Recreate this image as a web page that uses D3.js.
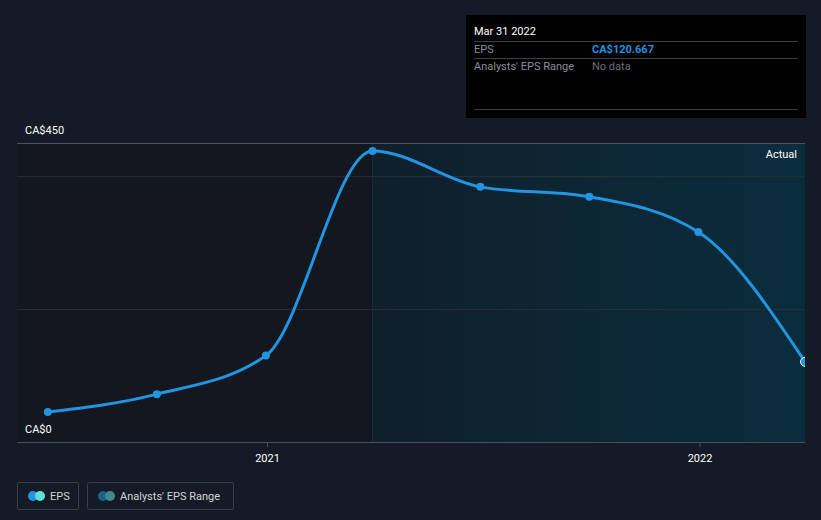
<!DOCTYPE html>
<html>
<head>
<meta charset="utf-8">
<script src="https://cdn.jsdelivr.net/npm/d3@7"></script>
<style>
  html, body { margin: 0; padding: 0; background: #151b26; }
  svg text { font-family: Roboto, "Noto Sans", sans-serif; }
</style>
</head>
<body>
<div id="chart"></div>
<script>
const width = 821;
const height = 520;
const margin = ({top: 143, right: 16, left: 17, bottom: 78});

// data
const dates = ["2020-06-30", "2020-09-30", "2020-12-31", "2021-03-31", "2021-06-30", "2021-09-30", "2021-12-31", "2022-03-31"];
const eps = [45, 72, 130, 438, 384, 369, 316, 120.667];
const yTicks = [0, 200, 400, 450];
const xTicks = ["2021-01-01", "2022-01-01"];
const actualStart = "2021-03-31";

const parse = d3.timeParse("%Y-%m-%d");
const data = dates.map((d, i) => ({date: parse(d), value: eps[i]}));

const svg = d3.select("#chart")
              .append("svg")
              .attr("width", width)
              .attr("height", height);

const x = d3.scaleTime()
            .domain([parse("2020-06-04"), parse("2022-03-31")])
            .range([margin.left, width - margin.right]);
const y = d3.scaleLinear()
            .domain([0, 450])
            .range([height - margin.bottom, margin.top]);

const defs = svg.append("defs");
const grad = defs.append("linearGradient").attr("id", "actualGrad")
                 .attr("x1", "0%").attr("x2", "100%");
grad.append("stop").attr("offset", "0%").attr("stop-color", "#101f2b");
grad.append("stop").attr("offset", "100%").attr("stop-color", "#0a2d3d");

defs.append("clipPath").attr("id", "plotClip")
    .append("rect")
    .attr("x", 0).attr("y", 0)
    .attr("width", x.range()[1]).attr("height", height);

// past (dark) region
svg.append("rect")
   .attr("x", x.range()[0])
   .attr("y", y(450))
   .attr("width", x(parse(actualStart)) - x.range()[0])
   .attr("height", y(0) - y(450))
   .attr("fill", "#121720");

// actual region
svg.append("rect")
   .attr("x", x(parse(actualStart)))
   .attr("y", y(450))
   .attr("width", x.range()[1] - x(parse(actualStart)))
   .attr("height", y(0) - y(450))
   .attr("fill", "url(#actualGrad)");

svg.append("line")
   .attr("x1", x(parse(actualStart))).attr("x2", x(parse(actualStart)))
   .attr("y1", y(450)).attr("y2", y(0))
   .attr("stroke", "#172d3a").attr("stroke-width", 1);

// gridlines
svg.append("g")
   .selectAll("line")
   .data(yTicks.filter(d => d > 0))
   .join("line")
   .attr("x1", x.range()[0]).attr("x2", x.range()[1])
   .attr("y1", d => y(d) + 0.5).attr("y2", d => y(d) + 0.5)
   .attr("stroke", d => d === 450 ? "#4a505a" : "#2a303a")
   .attr("stroke-width", 1);

// y labels
svg.append("g")
   .selectAll("text")
   .data([0, 450])
   .join("text")
   .attr("x", 25)
   .attr("y", d => y(d) - 9)
   .attr("fill", "#ffffff")
   .attr("font-size", 11)
   .text(d => "CA$" + d);

// x axis
const xAxis = svg.append("g")
   .attr("transform", `translate(0,${y(0)})`)
   .call(d3.axisBottom(x).tickValues(xTicks.map(parse)).tickFormat(d3.timeFormat("%Y")).tickSize(5).tickSizeOuter(0));
xAxis.select(".domain").attr("stroke", "#4a505a");
xAxis.selectAll(".tick line").attr("stroke", "#4a505a");
xAxis.selectAll(".tick text").attr("fill", "#ffffff").attr("font-size", 11).attr("dy", "1.1em")
     .attr("font-family", "Roboto, sans-serif");

// "Actual" label
svg.append("text")
   .attr("x", x.range()[1] - 8)
   .attr("y", y(450) + 15)
   .attr("text-anchor", "end")
   .attr("fill", "#ffffff")
   .attr("font-size", 11)
   .text("Actual");

// line
const line = d3.line()
               .x(d => x(d.date))
               .y(d => y(d.value))
               .curve(d3.curveMonotoneX);

const marks = svg.append("g").attr("clip-path", "url(#plotClip)");

marks.append("path")
   .datum(data)
   .attr("fill", "none")
   .attr("stroke", "#2394df")
   .attr("stroke-width", 3)
   .attr("d", line);

marks.append("g")
   .selectAll("circle")
   .data(data)
   .join("circle")
   .attr("cx", d => x(d.date))
   .attr("cy", d => y(d.value))
   .attr("r", (d, i) => i === data.length - 1 ? 4.5 : 4)
   .attr("fill", "#2394df")
   .attr("stroke", (d, i) => i === data.length - 1 ? "#ffffff" : "none")
   .attr("stroke-width", 1);

// tooltip
const last = data[data.length - 1];
const tip = svg.append("g").attr("transform", "translate(466,15)");
tip.append("rect").attr("width", 340).attr("height", 103).attr("fill", "#000000");
tip.append("text").attr("x", 8).attr("y", 20).attr("fill", "#ffffff").attr("font-size", 11)
   .text(d3.timeFormat("%b %d %Y")(last.date));
[26, 43, 94].forEach(yy => tip.append("line").attr("x1", 8).attr("x2", 332)
   .attr("y1", yy + 0.5).attr("y2", yy + 0.5).attr("stroke", "#3a3f46"));
tip.append("text").attr("x", 8).attr("y", 38).attr("fill", "#8a8f96").attr("font-size", 11).text("EPS");
tip.append("text").attr("x", 126).attr("y", 38).attr("fill", "#2394df").attr("font-size", 11)
   .attr("font-weight", "bold").text("CA$" + d3.format(".3f")(last.value));
tip.append("text").attr("x", 8).attr("y", 55).attr("fill", "#8a8f96").attr("font-size", 11).text("Analysts' EPS Range");
tip.append("text").attr("x", 126).attr("y", 55).attr("fill", "#6a6f76").attr("font-size", 11).text("No data");

// legend
const legendItems = [
  {label: "EPS", c1: "#2394df", c2: "#5ce0d8", x: 17, w: 61},
  {label: "Analysts' EPS Range", c1: "#1f5f8a", c2: "#3e8c88", x: 87, w: 146}
];
const legend = svg.append("g").selectAll("g").data(legendItems).join("g")
                  .attr("transform", d => `translate(${d.x},482)`);
legend.append("rect").attr("x", 0.5).attr("y", 0.5).attr("width", d => d.w).attr("height", 27)
      .attr("rx", 2).attr("fill", "none").attr("stroke", "#3a404a");
legend.append("circle").attr("cx", 16).attr("cy", 14).attr("r", 5).attr("fill", d => d.c1);
legend.append("circle").attr("cx", 23).attr("cy", 14).attr("r", 5).attr("fill", d => d.c2);
legend.append("text").attr("x", 33).attr("y", 18).attr("fill", "#d0d3d8").attr("font-size", 11)
      .text(d => d.label);
</script>
</body>
</html>
